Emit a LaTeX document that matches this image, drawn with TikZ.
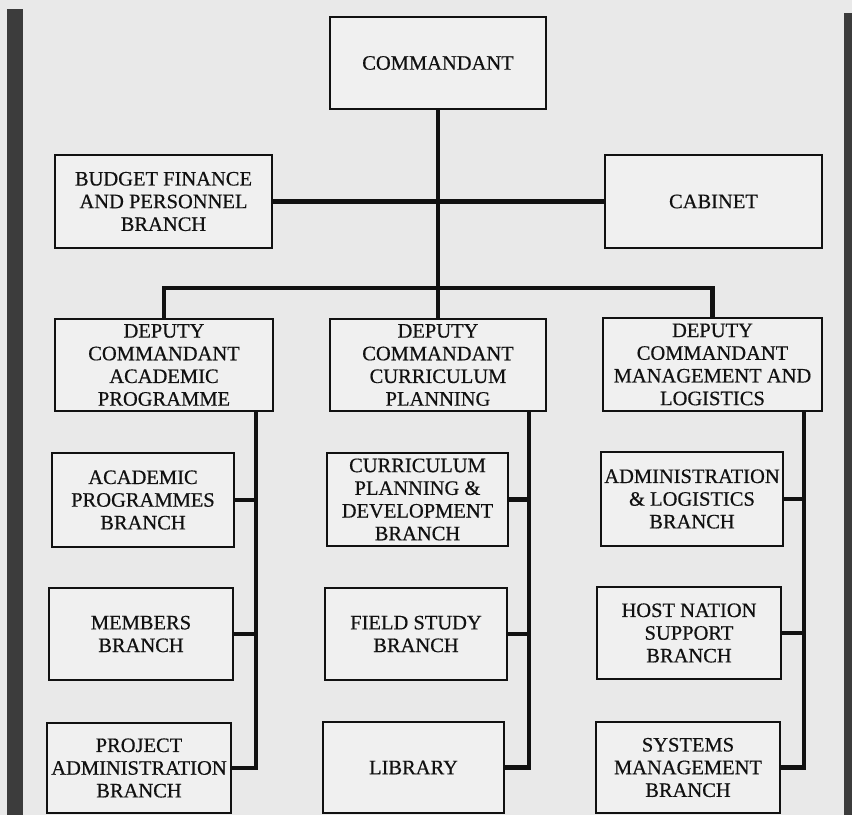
\documentclass[tikz,border=0pt]{standalone}
\usepackage{fontspec}
\setmainfont{Liberation Serif}
\newfontfamily\orgfont[FakeBold=0.5]{Liberation Serif}
\definecolor{bg}{HTML}{E9E9E9}
\definecolor{boxbg}{HTML}{F0F0F0}
\definecolor{ink}{HTML}{111111}
\definecolor{strip}{HTML}{3C3C3C}
\tikzset{
  orgbox/.style={draw=ink, line width=2pt, fill=boxbg, text=ink, align=center,
    inner sep=0pt, font=\orgfont\fontsize{20.5}{22.7}\selectfont},
  conn/.style={draw=ink, line width=4.2pt, line cap=rect}
}
% \obox{name}{x1}{y1}{x2}{y2}{text}
\newcommand{\obox}[6]{%
  \node[orgbox, minimum width=#4pt-#2pt, minimum height=#5pt-#3pt]
    (#1) at ({(#2+#4)/2},{(#3+#5)/2}) {#6};}
\begin{document}
\begin{tikzpicture}[x=1pt,y=-1pt]
\useasboundingbox (0,0) rectangle (852,815);
\fill[bg] (0,0) rectangle (852,815);
\fill[strip] (7,9) rectangle (23,815);
\fill[strip] (844,13) rectangle (852,815);

\obox{cmd}{330}{17}{546}{109}{COMMANDANT}
\obox{bud}{55}{155}{272}{248}{BUDGET FINANCE\\AND PERSONNEL\\BRANCH}
\obox{cab}{605}{155}{822}{248}{CABINET}
\obox{dep1}{55}{319}{273}{411}{DEPUTY\\COMMANDANT\\ACADEMIC\\PROGRAMME}
\obox{dep2}{330}{319}{546}{411}{DEPUTY\\COMMANDANT\\CURRICULUM\\PLANNING}
\obox{dep3}{603}{318}{822}{411}{DEPUTY\\COMMANDANT\\MANAGEMENT AND\\LOGISTICS}
\obox{aa}{52}{453}{234}{547}{ACADEMIC\\PROGRAMMES\\BRANCH}
\obox{ba}{327}{453}{508}{546}{CURRICULUM\\PLANNING \&\\DEVELOPMENT\\BRANCH}
\obox{ca}{601}{452}{783}{546}{ADMINISTRATION\\\& LOGISTICS\\BRANCH}
\obox{ab}{49}{588}{233}{680}{MEMBERS\\BRANCH}
\obox{bb}{325}{588}{507}{680}{FIELD STUDY\\BRANCH}
\obox{cb}{597}{587}{781}{679}{HOST NATION\\SUPPORT\\BRANCH}
\obox{ac}{47}{723}{231}{813}{PROJECT\\ADMINISTRATION\\BRANCH}
\obox{bc}{323}{722}{504}{813}{LIBRARY}
\obox{cc}{596}{722}{780}{813}{SYSTEMS\\MANAGEMENT\\BRANCH}

\coordinate (jn) at (cmd.south |- 0,288);
\coordinate (s1) at ([xshift=-18pt]dep1.south east);
\coordinate (s2) at ([xshift=-18pt]dep2.south east);
\coordinate (s3) at ([xshift=-19pt]dep3.south east);

\draw[conn] (cmd.south) -- (jn);
\draw[conn] (jn) -- (jn |- dep2.north);
\draw[conn] (bud.east) -- (cab.west);
\draw[conn] (dep1.north) |- (jn) -| (dep3.north);
\draw[conn] (s1) |- (ac.east);
\draw[conn] (s2) |- (bc.east);
\draw[conn] (s3) |- (cc.east);
\draw[conn] (aa.east) -- (aa.east -| s1);
\draw[conn] (ab.east) -- (ab.east -| s1);
\draw[conn] (ba.east) -- (ba.east -| s2);
\draw[conn] (bb.east) -- (bb.east -| s2);
\draw[conn] (ca.east) -- (ca.east -| s3);
\draw[conn] (cb.east) -- (cb.east -| s3);
\end{tikzpicture}
\end{document}
